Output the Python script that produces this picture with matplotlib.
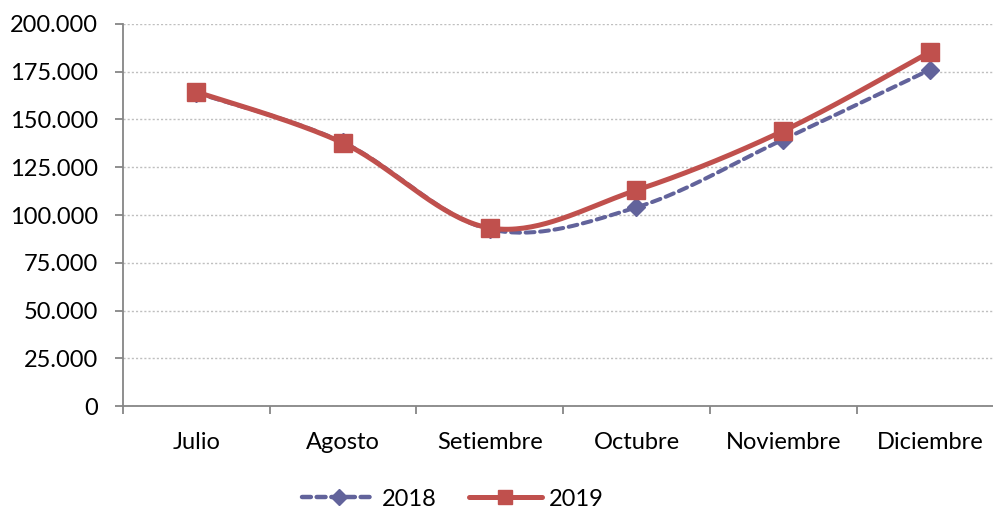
import numpy as np
import matplotlib
matplotlib.use('Agg')
from matplotlib import pyplot as plt
from matplotlib.ticker import FuncFormatter, MultipleLocator

meses = ['Julio', 'Agosto', 'Setiembre', 'Octubre', 'Noviembre', 'Diciembre']
v2018 = [164000, 138000, 92500, 104000, 139500, 176000]
v2019 = [164500, 137700, 93200, 113000, 144000, 185300]

plt.rcParams['font.family'] = ['Lato', 'DejaVu Sans']


# smooth curve through the points (Catmull-Rom as cubic Bezier, like Excel)
def smooth( x, y, n=40 ):
    p = np.column_stack( [x, y] ).astype(float)
    pts = [p[0]]
    for i in range( len(p) - 1 ):
        p0 = p[i-1] if i > 0 else p[i]
        p3 = p[i+2] if i + 2 < len(p) else p[i+1]
        c1 = p[i] + (p[i+1] - p0) / 6.0
        c2 = p[i+1] - (p3 - p[i]) / 6.0
        t = np.linspace( 0, 1, n )[1:, None]
        seg = (1-t)**3*p[i] + 3*(1-t)**2*t*c1 + 3*(1-t)*t**2*c2 + t**3*p[i+1]
        pts.extend( seg )
    pts = np.array( pts )
    return pts[:, 0], pts[:, 1]


W, H = 993, 511
fig = plt.figure( figsize=(W/100, H/100), dpi=100 )
ax = fig.add_axes( [123/W, (H-406)/H, 870/W, 382/H] )

x = np.arange( len(meses) ) + 0.5
c18 = '#62639B'
c19 = '#C0504D'
fs = 17

sx, sy = smooth( x, v2018 )
ax.plot( sx, sy, color=c18, lw=2.9, ls=(0, (2.2, 1.4)), dash_capstyle='round', zorder=3 )
ax.plot( x, v2018, ls='none', marker='D', ms=9, color=c18, zorder=4 )
sx, sy = smooth( x, v2019 )
ax.plot( sx, sy, color=c19, lw=3.6, solid_capstyle='round', zorder=5 )
ax.plot( x, v2019, ls='none', marker='s', ms=13.5, color=c19, zorder=6 )

# legend handles
ax.plot( [], [], color=c18, lw=3.2, ls=(0, (2.0, 1.3)), dash_capstyle='round', marker='D', ms=8, label='2018' )
ax.plot( [], [], color=c19, lw=3.6, solid_capstyle='round', marker='s', ms=9.5, label='2019' )

ax.set_xlim( 0, 870/146.7 )
ax.set_ylim( 0, 200000 )
ax.yaxis.set_major_locator( MultipleLocator(25000) )
ax.yaxis.set_major_formatter( FuncFormatter( lambda v, p: '0' if v == 0 else '{:,.0f}'.format(v).replace(',', '.') ) )
ax.set_xticks( np.arange( 0, 6 ) )
ax.set_xticklabels( [] )
ax.set_xticks( x, minor=True )
ax.set_xticklabels( meses, minor=True )
ax.tick_params( axis='x', which='minor', length=0, pad=19, labelsize=fs )
ax.tick_params( axis='x', which='major', length=6, width=1.3, color='#868686', direction='out' )
ax.tick_params( axis='y', length=6, width=1.3, color='#868686', labelsize=fs, pad=12 )

ax.grid( axis='y', color='#BFBFBF', ls=(0, (1.5, 1.5)), lw=1 )
for s in ['top', 'right']:
    ax.spines[s].set_visible( False )
for s in ['left', 'bottom']:
    ax.spines[s].set_color( '#868686' )
    ax.spines[s].set_linewidth( 1.3 )

fig.legend( loc='center', bbox_to_anchor=(453/W, 1 - 499/H), ncol=2, frameon=False,
            fontsize=fs, handlelength=3.1, columnspacing=1.35, handletextpad=0.3 )

plt.savefig( 'out.png', dpi=100 )
plt.close( fig )
